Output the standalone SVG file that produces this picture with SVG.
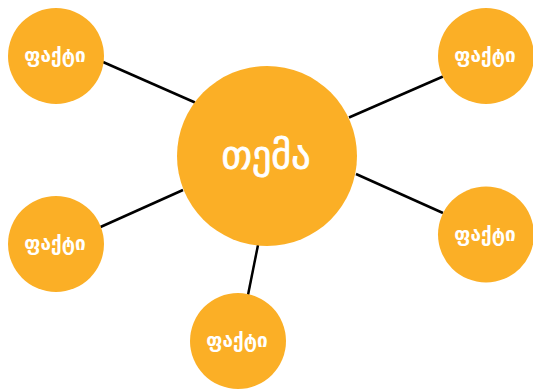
<svg xmlns="http://www.w3.org/2000/svg" width="533" height="390" viewBox="0 0 533 390">
<style>
.node{fill:#FBAF26}
.edge{stroke:#000;stroke-width:2.5;fill:none}
.t{fill:#fff;font-family:"DejaVu Sans","Noto Sans",sans-serif;text-anchor:middle;dominant-baseline:central}
.big{font-size:38px;stroke:#fff;stroke-width:0.8}
.small{font-size:19px;font-weight:bold}
</style>
<rect width="533" height="390" fill="#fff"/>
<g id="connectors">
<line class="edge" x1="103" y1="62" x2="195" y2="102.5"/>
<line class="edge" x1="349" y1="117.5" x2="443" y2="76.5"/>
<line class="edge" x1="356" y1="174" x2="443" y2="213"/>
<line class="edge" x1="100.5" y1="227" x2="183" y2="190"/>
<line class="edge" x1="258" y1="245" x2="248" y2="295"/>
</g>
<g id="topic"><circle class="node" cx="267" cy="156" r="90"/><text class="t big" x="266" y="155">თემა</text></g>
<g id="fact-top-left"><circle class="node" cx="56" cy="56" r="48"/><text class="t small" x="55" y="55">ფაქტი</text></g>
<g id="fact-top-right"><circle class="node" cx="486" cy="56" r="48"/><text class="t small" x="485" y="55">ფაქტი</text></g>
<g id="fact-mid-right"><circle class="node" cx="486" cy="234.5" r="48"/><text class="t small" x="485" y="233.5">ფაქტი</text></g>
<g id="fact-mid-left"><circle class="node" cx="56" cy="244" r="48"/><text class="t small" x="55" y="243">ფაქტი</text></g>
<g id="fact-bottom"><circle class="node" cx="238" cy="341" r="48"/><text class="t small" x="237" y="340">ფაქტი</text></g>
</svg>
